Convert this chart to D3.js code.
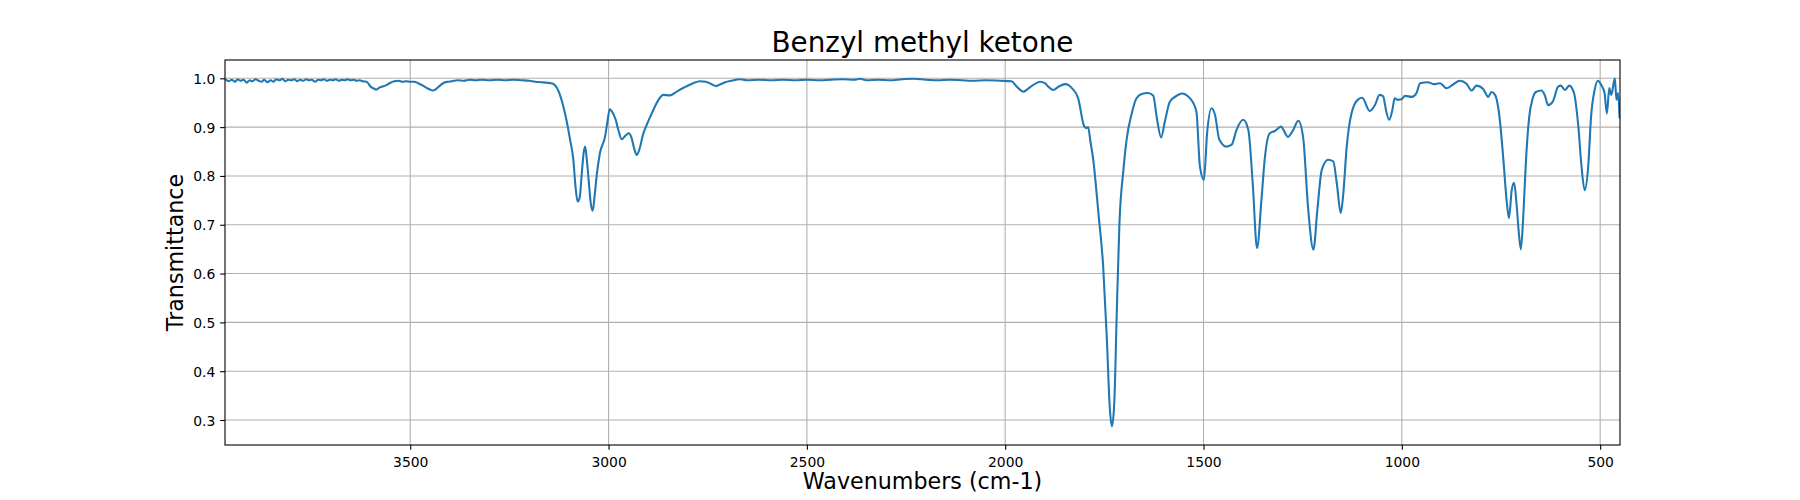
<!DOCTYPE html>
<html>
<head>
<meta charset="utf-8">
<script src="https://cdn.jsdelivr.net/npm/d3@7"></script>
<style>
  html, body { margin: 0; padding: 0; background: #fff; }
  svg { display: block; font-family: "DejaVu Sans", sans-serif; }
</style>
</head>
<body>
<svg id="chart" width="1800" height="500"></svg>
<script>
// ---- Data ----
const title = "Benzyl methyl ketone";
const xLabel = "Wavenumbers (cm-1)";
const yLabel = "Transmittance";
const xTicks = [3500, 3000, 2500, 2000, 1500, 1000, 500];
const yTicks = [0.3, 0.4, 0.5, 0.6, 0.7, 0.8, 0.9, 1.0];
const xDomain = [3967, 450];
const yDomain = [0.2488, 1.0375];

const wavenumbers = [
  3966, 3958, 3950, 3942, 3935, 3928, 3920, 3912, 3905, 3898,
  3890, 3882, 3875, 3868, 3860, 3852, 3845, 3838, 3830, 3822,
  3815, 3808, 3800, 3792, 3785, 3778, 3770, 3762, 3755, 3748,
  3740, 3732, 3725, 3718, 3710, 3702, 3695, 3688, 3680, 3672,
  3665, 3658, 3650, 3642, 3635, 3628, 3620, 3610, 3600, 3592,
  3585, 3578, 3570, 3560, 3550, 3540, 3530, 3520, 3510, 3500,
  3490, 3480, 3470, 3460, 3450, 3443, 3435, 3425, 3415, 3405,
  3395, 3380, 3365, 3350, 3335, 3320, 3300, 3280, 3260, 3240,
  3220, 3200, 3185, 3170, 3155, 3140, 3130, 3120, 3114, 3105,
  3097, 3089, 3083, 3078, 3073, 3067, 3063, 3059, 3055, 3050,
  3045, 3040, 3035, 3030, 3022, 3009, 3003, 2997, 2990, 2982,
  2975, 2967, 2958, 2949, 2942, 2935, 2929, 2922, 2913, 2904,
  2890, 2879, 2862, 2845, 2833, 2820, 2805, 2787, 2770, 2755,
  2745, 2736, 2729, 2723, 2706, 2690, 2669, 2650, 2620, 2590,
  2560, 2530, 2500, 2470, 2440, 2410, 2380, 2366, 2350, 2320,
  2290, 2260, 2230, 2200, 2170, 2140, 2110, 2080, 2050, 2013,
  1984, 1971, 1960, 1954, 1945, 1930, 1912, 1900, 1890, 1879,
  1865, 1849, 1840, 1832, 1816, 1801, 1795, 1791, 1785, 1778,
  1765, 1753, 1744, 1736, 1731, 1725, 1719, 1712, 1702, 1694,
  1681, 1669, 1656, 1640, 1627, 1617, 1607, 1597, 1585, 1568,
  1555, 1534, 1518, 1509, 1499, 1491, 1480, 1471, 1460, 1442,
  1429, 1417, 1400, 1387, 1376, 1365, 1354, 1345, 1333, 1320,
  1305, 1287, 1274, 1261, 1249, 1236, 1223, 1213, 1202, 1186,
  1173, 1164, 1154, 1148, 1139, 1127, 1110, 1100, 1081, 1068,
  1056, 1047, 1040, 1032, 1024, 1018, 1010, 1001, 992, 975,
  963, 954, 934, 920, 904, 887, 875, 854, 837, 824,
  812, 795, 782, 774, 765, 753, 744, 736, 730, 723,
  717, 711, 705, 700, 694, 687, 679, 670, 662, 648,
  640, 631, 619, 606, 599, 589, 578, 566, 555, 547,
  539, 530, 523, 514, 506, 497, 489, 483, 477, 472,
  463, 459, 455, 451
];

const transmittance = [
  0.998, 0.994, 0.997, 0.993, 0.998, 0.995, 0.997, 0.991, 0.996, 0.994,
  0.998, 0.995, 0.993, 0.997, 0.992, 0.996, 0.993, 0.998, 0.996, 0.999,
  0.994, 0.997, 0.996, 0.998, 0.994, 0.997, 0.995, 0.998, 0.996, 0.997,
  0.993, 0.997, 0.996, 0.998, 0.995, 0.997, 0.996, 0.998, 0.995, 0.997,
  0.996, 0.998, 0.996, 0.997, 0.995, 0.996, 0.994, 0.993, 0.983, 0.979,
  0.977, 0.981, 0.983, 0.986, 0.991, 0.994, 0.995, 0.993, 0.994, 0.993,
  0.993, 0.990, 0.986, 0.981, 0.977, 0.975, 0.978, 0.985, 0.991, 0.993,
  0.994, 0.996, 0.995, 0.997, 0.996, 0.997, 0.996, 0.997, 0.996, 0.997,
  0.996, 0.995, 0.993, 0.992, 0.991, 0.989, 0.980, 0.960, 0.942, 0.910,
  0.874, 0.835, 0.775, 0.7475, 0.755, 0.810, 0.846, 0.860, 0.835, 0.790,
  0.745, 0.729, 0.760, 0.800, 0.846, 0.880, 0.910, 0.9365, 0.930, 0.915,
  0.893, 0.875, 0.882, 0.8875, 0.878, 0.855, 0.843, 0.855, 0.885, 0.904,
  0.930, 0.949, 0.966, 0.965, 0.970, 0.977, 0.983, 0.990, 0.994, 0.993,
  0.990, 0.986, 0.984, 0.986, 0.992, 0.995, 0.998, 0.996, 0.997, 0.996,
  0.997, 0.996, 0.997, 0.996, 0.997, 0.998, 0.997, 0.999, 0.996, 0.997,
  0.996, 0.998, 0.999, 0.997, 0.996, 0.997, 0.996, 0.995, 0.996, 0.995,
  0.994, 0.983, 0.975, 0.9726, 0.977, 0.986, 0.993, 0.990, 0.982, 0.976,
  0.983, 0.988, 0.986, 0.980, 0.959, 0.902, 0.898, 0.900, 0.870, 0.833,
  0.724, 0.6145, 0.471, 0.321, 0.287, 0.335, 0.512, 0.703, 0.812, 0.874,
  0.928, 0.959, 0.968, 0.970, 0.965, 0.915, 0.879, 0.913, 0.952, 0.964,
  0.969, 0.959, 0.932, 0.819, 0.792, 0.887, 0.9386, 0.925, 0.874, 0.860,
  0.864, 0.894, 0.915, 0.894, 0.785, 0.652, 0.751, 0.840, 0.8875, 0.892,
  0.901, 0.880, 0.894, 0.913, 0.880, 0.7305, 0.649, 0.7305, 0.812, 0.833,
  0.830, 0.785, 0.724, 0.760, 0.860, 0.928, 0.957, 0.960, 0.933, 0.945,
  0.966, 0.963, 0.935, 0.915, 0.935, 0.959, 0.956, 0.957, 0.964, 0.962,
  0.970, 0.990, 0.992, 0.988, 0.990, 0.9795, 0.985, 0.995, 0.989, 0.975,
  0.985, 0.978, 0.962, 0.972, 0.966, 0.915, 0.833, 0.751, 0.7135, 0.771,
  0.786, 0.744, 0.683, 0.650, 0.715, 0.833, 0.920, 0.959, 0.972, 0.975,
  0.966, 0.945, 0.953, 0.983, 0.985, 0.976, 0.985, 0.970, 0.901, 0.819,
  0.771, 0.821, 0.921, 0.976, 0.995, 0.986, 0.970, 0.928, 0.980, 0.966,
  1.000, 0.956, 0.970, 0.918
];

// ---- Layout ----
const W = 1800, H = 500;
const margin = { left: 225, right: 180, top: 60, bottom: 55 };
const pw = W - margin.left - margin.right;
const ph = H - margin.top - margin.bottom;
const tickLen = 4.86, tickPad = 4.86;
const gridColor = "#b0b0b0";
const lineColor = "#1f77b4";

const svg = d3.select("#chart");
const g = svg.append("g").attr("transform", `translate(${margin.left},${margin.top})`);

const x = d3.scaleLinear().domain(xDomain).range([0, pw]);
const y = d3.scaleLinear().domain(yDomain).range([ph, 0]);

// Grid
g.append("g").selectAll("line").data(xTicks).join("line")
  .attr("x1", d => x(d)).attr("x2", d => x(d))
  .attr("y1", 0).attr("y2", ph)
  .attr("stroke", gridColor).attr("stroke-width", 1.1);
g.append("g").selectAll("line").data(yTicks).join("line")
  .attr("x1", 0).attr("x2", pw)
  .attr("y1", d => y(d)).attr("y2", d => y(d))
  .attr("stroke", gridColor).attr("stroke-width", 1.1);

// Clip
svg.append("defs").append("clipPath").attr("id", "clip")
  .append("rect").attr("width", pw).attr("height", ph);

// Line
const pts = wavenumbers.map((w, i) => [w, transmittance[i]]);
const line = d3.line()
  .x(d => x(d[0]))
  .y(d => y(d[1]))
  .curve(d3.curveMonotoneX);
g.append("path")
  .attr("clip-path", "url(#clip)")
  .attr("d", line(pts))
  .attr("fill", "none")
  .attr("stroke", lineColor)
  .attr("stroke-width", 2.08)
  .attr("stroke-linejoin", "round")
  .attr("stroke-linecap", "butt");

// Axes
const xAxis = d3.axisBottom(x).tickValues(xTicks).tickFormat(d3.format("d"))
  .tickSize(tickLen).tickPadding(tickPad);
const yAxis = d3.axisLeft(y).tickValues(yTicks).tickFormat(d3.format(".1f"))
  .tickSize(tickLen).tickPadding(tickPad);

const gx = g.append("g").attr("transform", `translate(0,${ph})`).call(xAxis);
const gy = g.append("g").call(yAxis);
[gx, gy].forEach(a => {
  a.select(".domain").remove();
  a.selectAll(".tick line").attr("stroke", "#000").attr("stroke-width", 1.1);
  a.selectAll(".tick text").attr("fill", "#000")
    .style("font-family", "'DejaVu Sans', sans-serif").style("font-size", "13.9px");
});
gx.selectAll(".tick text").attr("dy", null).attr("y", 21.5);
gy.selectAll(".tick text").attr("dy", "0.36em");

// Spines
g.append("rect").attr("width", pw).attr("height", ph)
  .attr("fill", "none").attr("stroke", "#000").attr("stroke-width", 1.1);

// Title & labels
svg.append("text").attr("x", margin.left + pw / 2).attr("y", 51.7)
  .attr("text-anchor", "middle").style("font-size", "27.8px").attr("fill", "#000")
  .text(title);
svg.append("text").attr("x", margin.left + pw / 2).attr("y", 489)
  .attr("text-anchor", "middle").style("font-size", "22.2px").attr("fill", "#000")
  .text(xLabel);
svg.append("text")
  .attr("transform", `translate(183,${margin.top + ph / 2}) rotate(-90)`)
  .attr("text-anchor", "middle").style("font-size", "22.2px").attr("fill", "#000")
  .text(yLabel);
</script>
</body>
</html>
